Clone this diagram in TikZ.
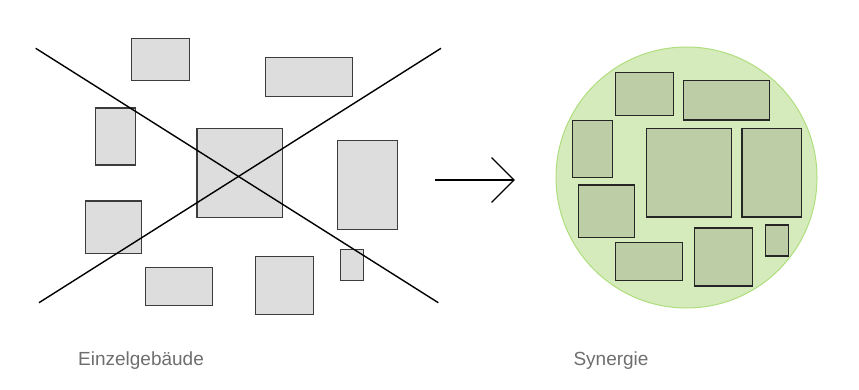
\documentclass[tikz,border=0pt]{standalone}
\usepackage{fontspec}
\setmainfont{Liberation Sans}
\definecolor{lgrayfill}{RGB}{221,221,221}
\definecolor{lgrayline}{RGB}{60,60,60}
\definecolor{circfill}{RGB}{213,235,188}
\definecolor{circline}{RGB}{175,222,125}
\definecolor{gfill}{RGB}{189,206,167}
\definecolor{labelgray}{RGB}{110,110,110}
\begin{document}
\begin{tikzpicture}[x=1pt,y=-1pt,
  lbox/.style={draw=lgrayline,fill=lgrayfill,line width=1.1pt,inner sep=0pt,outer sep=0pt},
  gbox/.style={draw=black!85,fill=gfill,line width=1.1pt,inner sep=0pt,outer sep=0pt},
  crossline/.style={draw=black,line width=1.4pt},
  arrowline/.style={draw=black,line width=1.4pt},
  lbl/.style={text=labelgray,font=\fontsize{19}{22}\selectfont,inner sep=0pt}]
\useasboundingbox (0,0) rectangle (859,390);
% left buildings
\node[lbox,minimum width=57.6,minimum height=42.4] (l1) at (160.5,59.5) {};
\node[lbox,minimum width=86.6,minimum height=39.3] (l2) at (309,77.3) {};
\node[lbox,minimum width=40,minimum height=57] (l3) at (115.7,136.5) {};
\node[lbox,minimum width=85.3,minimum height=89] (l4) at (239.6,172.8) {};
\node[lbox,minimum width=59.6,minimum height=88.6] (l5) at (367.5,185) {};
\node[lbox,minimum width=55.6,minimum height=52.3] (l6) at (113.5,227.2) {};
\node[lbox,minimum width=67,minimum height=37.7] (l7) at (179.2,286.2) {};
\node[lbox,minimum width=58,minimum height=57.7] (l8) at (284.7,285.2) {};
\node[lbox,minimum width=22.6,minimum height=30.7] (l9) at (352,264.7) {};
% cross
\coordinate (c1) at (35.7,48.3);
\coordinate (c2) at (438.3,302.7);
\coordinate (c3) at (39,302.7);
\coordinate (c4) at (441,48.3);
\draw[crossline] (c1) -- (c2);
\draw[crossline] (c3) -- (c4);
% arrow
\coordinate (atail) at (435,180);
\coordinate (atip) at (514,180);
\coordinate (ah1) at (491.5,157.5);
\coordinate (ah2) at (491.5,202.5);
\draw[arrowline] (atail) -- (atip);
\draw[arrowline,line join=miter] (ah1) -- (atip) -- (ah2);
% synergy circle
\node[circle,draw=circline,fill=circfill,line width=1pt,minimum size=261,inner sep=0pt] (circ) at (686.5,177.5) {};
\node[gbox,minimum width=58,minimum height=42.6] (g1) at (644.3,94) {};
\node[gbox,minimum width=86.3,minimum height=39.7] (g2) at (726.2,100.2) {};
\node[gbox,minimum width=40,minimum height=57] (g3) at (592.3,148.8) {};
\node[gbox,minimum width=85.4,minimum height=88.7] (g4) at (689,172.7) {};
\node[gbox,minimum width=59.7,minimum height=88.7] (g5) at (771.8,172.7) {};
\node[gbox,minimum width=55.6,minimum height=52.3] (g6) at (606.5,211.2) {};
\node[gbox,minimum width=67,minimum height=37.6] (g7) at (648.8,261.5) {};
\node[gbox,minimum width=58,minimum height=58] (g8) at (723.3,257) {};
\node[gbox,minimum width=22.6,minimum height=31] (g9) at (777,240.5) {};
% labels
\node[lbl,anchor=base] (t1) at (141,365) {Einzelgebäude};
\node[lbl,anchor=base] (t2) at (611,365) {Synergie};
\end{tikzpicture}
\end{document}
